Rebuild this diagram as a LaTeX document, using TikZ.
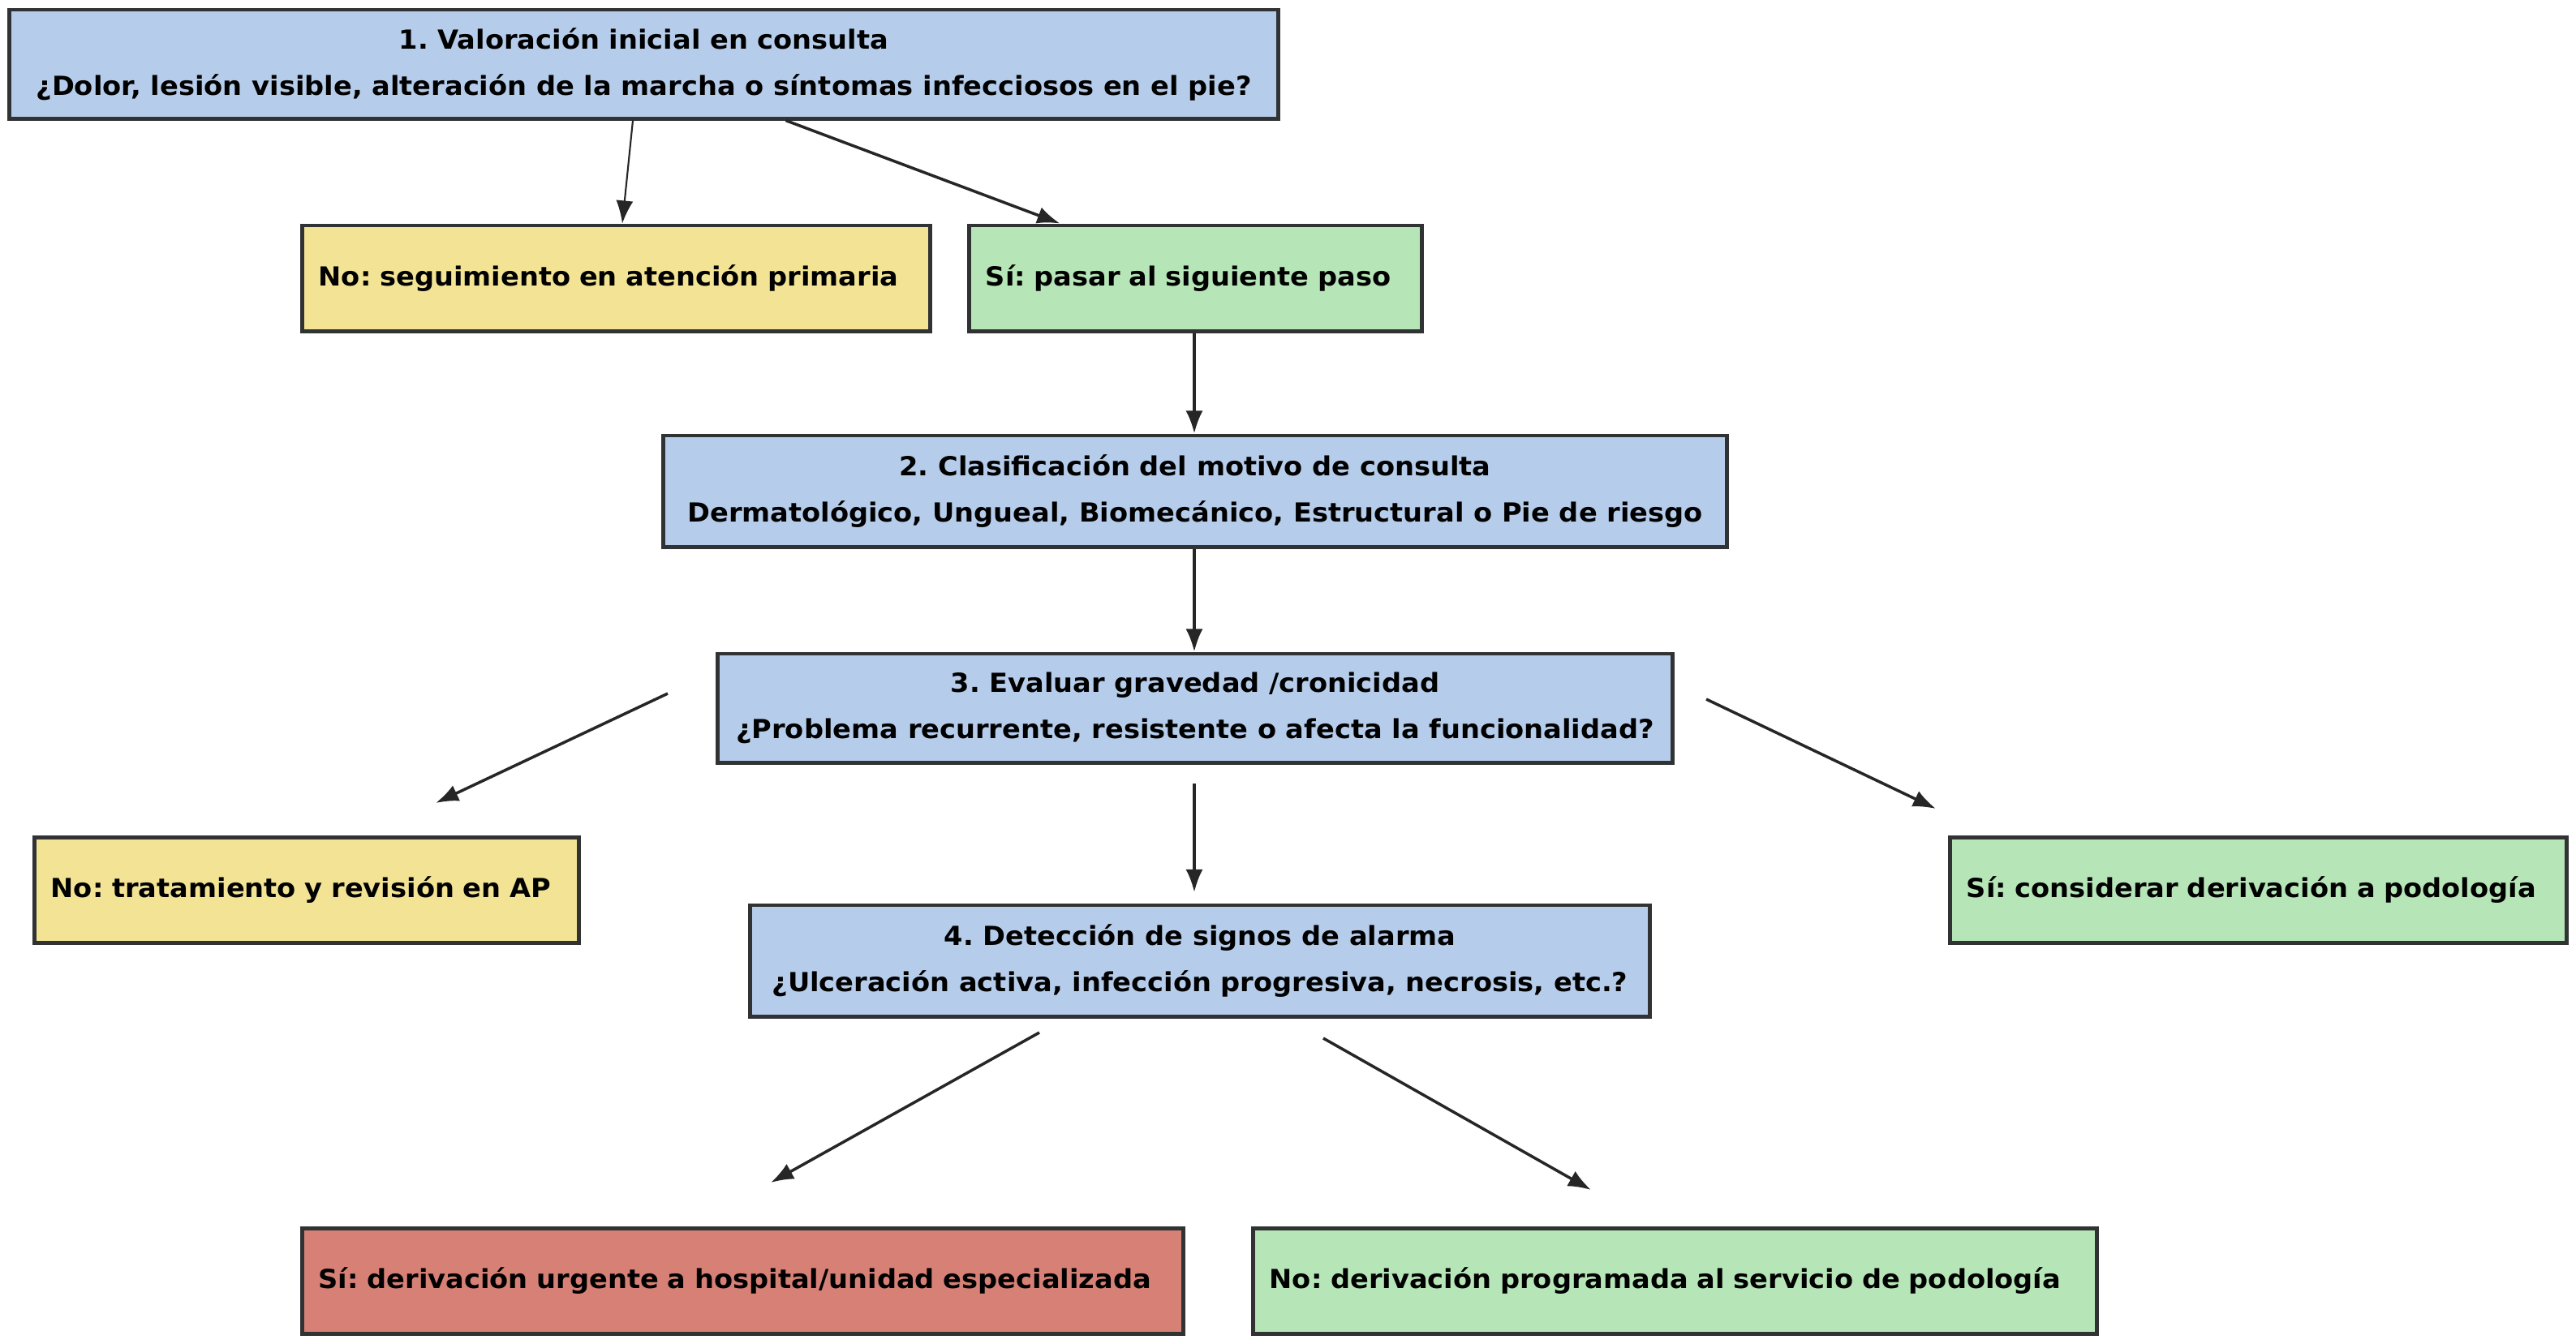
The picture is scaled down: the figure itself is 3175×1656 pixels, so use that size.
\documentclass[tikz,border=0pt]{standalone}
\usepackage{fontspec}
\setmainfont{DejaVu Sans}[FakeStretch=1.04]
\usetikzlibrary{arrows.meta,calc}

\definecolor{pasoazul}{RGB}{181,204,234}
\definecolor{noamarillo}{RGB}{242,228,148}
\definecolor{siverde}{RGB}{182,230,183}
\definecolor{urgrojo}{RGB}{214,128,118}
\definecolor{borde}{RGB}{48,50,52}

\tikzset{
  caja/.style={draw=borde, line width=1.4pt, inner xsep=0.2cm, inner ysep=0pt,
    font=\frenchspacing\bfseries\fontsize{9.2}{16.2}\selectfont},
  paso/.style={caja, fill=pasoazul, align=center},
  resp/.style={caja, align=left, minimum height=1.30cm},
  flecha/.style={-{Latex[length=8pt,width=6pt]}, line width=1pt, draw=black!85},
}

\begin{document}
\begin{tikzpicture}[x=0.01cm,y=-0.01cm]
  \useasboundingbox (0,0) rectangle (3175,1656);

  % Steps
  \node[paso, minimum width=15.63cm, minimum height=1.34cm] (paso1) at (793.5,79)
    {1. Valoración inicial en consulta\\¿Dolor, lesión visible, alteración de la marcha o síntomas infecciosos en el pie?};
  \node[paso, minimum width=13.10cm, minimum height=1.37cm] (paso2) at (1473,605.5)
    {2. Clasificación del motivo de consulta\\Dermatológico, Ungueal, Biomecánico, Estructural o Pie de riesgo};
  \node[paso, minimum width=11.76cm, minimum height=1.34cm] (paso3) at (1473,873)
    {3. Evaluar gravedad /cronicidad\\¿Problema recurrente, resistente o afecta la funcionalidad?};
  \node[paso, minimum width=11.08cm, minimum height=1.37cm] (paso4) at (1479,1184.5)
    {4. Detección de signos de alarma\\¿Ulceración activa, infección progresiva, necrosis, etc.?};

  % Answers
  \node[resp, fill=noamarillo, minimum width=7.73cm, text width=7.33cm] (no1) at (759.5,343)
    {\mbox{No: seguimiento en atención primaria}};
  \node[resp, fill=siverde, minimum width=5.57cm, text width=5.17cm] (si1) at (1473.5,343)
    {\mbox{Sí: pasar al siguiente paso}};
  \node[resp, fill=noamarillo, minimum width=6.70cm, text width=6.30cm] (no3) at (378,1097.5)
    {\mbox{No: tratamiento y revisión en AP}};
  \node[resp, fill=siverde, minimum width=7.59cm, text width=7.19cm] (si3) at (2783.5,1097.5)
    {\mbox{Sí: considerar derivación a podología}};
  \node[resp, fill=urgrojo, minimum width=10.85cm, text width=10.45cm] (si4) at (915.5,1579.5)
    {\mbox{Sí: derivación urgente a hospital/unidad especializada}};
  \node[resp, fill=siverde, minimum width=10.39cm, text width=9.99cm] (no4) at (2064.5,1579.5)
    {\mbox{No: derivación programada al servicio de podología}};

  % Free arrow ends
  \coordinate (p3izq) at (823,855);
  \coordinate (no3top) at (537,990);
  \coordinate (p3der) at (2103,862);
  \coordinate (si3top) at (2386,997);
  \coordinate (p3baj) at (1472,966);
  \coordinate (p4top) at (1472,1100);
  \coordinate (p4izq) at (1281,1273);
  \coordinate (si4top) at (950,1458);
  \coordinate (p4der) at (1631,1280);
  \coordinate (no4top) at (1961,1467);

  % Arrows
  \draw[flecha, line width=0.6pt] ($(paso1.south)+(-13.5,0)$) -- ($(no1.north)+(7.5,0)$);
  \draw[flecha] ($(paso1.south)+(175,0)$) -- ($(si1.north)+(-167,0)$);
  \draw[flecha] ($(si1.south)+(-1.5,0)$) -- ($(paso2.north)+(-1,0)$);
  \draw[flecha] ($(paso2.south)+(-1,0)$) -- ($(paso3.north)+(-1,0)$);
  \draw[flecha] (p3izq) -- (no3top);
  \draw[flecha] (p3der) -- (si3top);
  \draw[flecha] (p3baj) -- (p4top);
  \draw[flecha] (p4izq) -- (si4top);
  \draw[flecha] (p4der) -- (no4top);

\end{tikzpicture}
\end{document}
